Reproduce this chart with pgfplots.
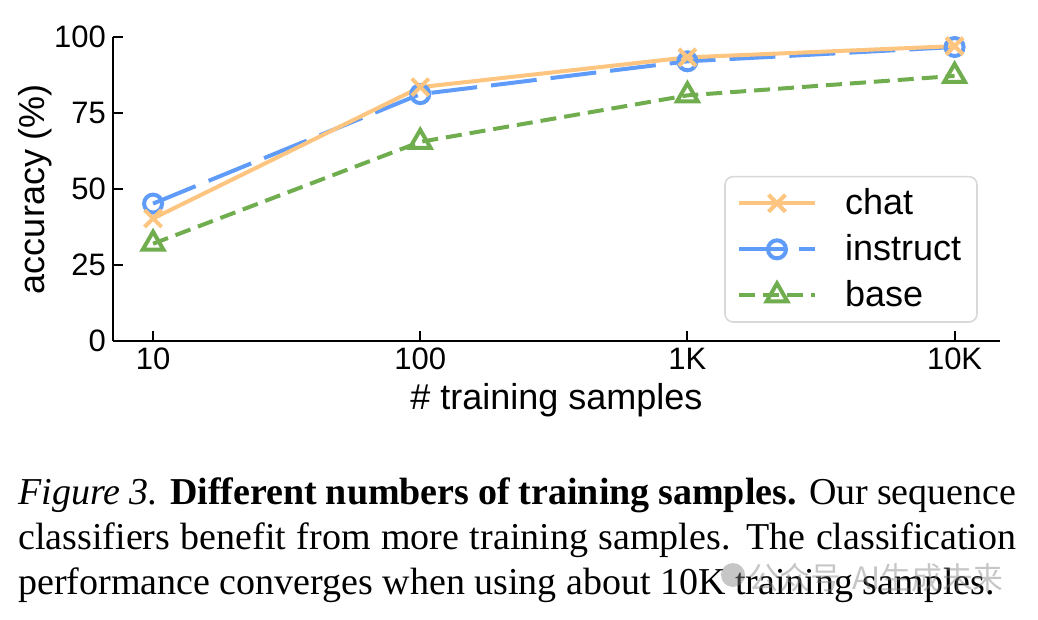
\documentclass[border=0pt]{standalone}
\usepackage{pgfplots}
\pgfplotsset{compat=1.18}
\usepackage{fontspec}
\setmainfont{Liberation Sans}
\newfontfamily\capfont{Liberation Serif}
\newfontfamily\cjk{Noto Sans CJK SC}
\definecolor{chatc}{HTML}{FDC57F}
\definecolor{instc}{HTML}{5F9BF9}
\definecolor{basec}{HTML}{70AD4F}
\begin{document}
\begin{tikzpicture}
\useasboundingbox (-56.5pt,-139.5pt) rectangle (462.5pt,170.5pt);
\begin{axis}[
  at={(0pt,0pt)}, anchor=south west,
  scale only axis, width=443.5pt, height=152pt,
  xmin=-0.15, xmax=3.17, ymin=0, ymax=100,
  axis x line*=bottom, axis y line*=left,
  axis line style={line width=1pt, -},
  tick style={line width=1pt, black},
  tick align=inside, major tick length=5pt,
  xtick={0,1,2,3}, xticklabels={10,100,1K,10K},
  ytick={0,25,50,75,100},
  /pgf/number format/assume math mode=true,
  tick label style={font=\fontsize{15.5}{18}\selectfont},
  xlabel={\# training samples},
  ylabel={accuracy (\%)},
  every axis x label/.style={at={(axis description cs:0.5,-0.194)}, anchor=center, font=\fontsize{18}{21}\selectfont},
  every axis y label/.style={at={(axis description cs:-0.088,0.5)}, rotate=90, anchor=center, font=\fontsize{18}{21}\selectfont},
  reverse legend,
  legend image code/.code={\draw[mark repeat=2,mark phase=2,#1] plot coordinates {(0pt,0pt) (19pt,0pt) (38pt,0pt)};},
  legend style={at={(axis description cs:0.975,0.06)}, anchor=south east,
    draw=black!15, line width=0.8pt, rounded corners=4pt,
    font=\fontsize{18}{21}\selectfont,
    inner xsep=6pt, inner ysep=4pt,
    row sep=4.5pt,
    nodes={inner ysep=2pt, inner xsep=2pt},
    /tikz/every even column/.append style={column sep=0pt},
    /tikz/every odd column/.append style={column sep=12pt},
  },
  legend cell align=left,
]
\addplot[basec, line width=2pt, dash pattern=on 8pt off 4pt, mark=triangle, mark size=6pt, mark options={solid, line width=2pt}]
  coordinates {(0,32)(1,65.5)(2,80.8)(3,87.2)};
\addlegendentry{base}
\addplot[instc, line width=2pt, dash pattern=on 23pt off 7pt, mark=o, mark size=4.5pt, mark options={solid, line width=2pt}]
  coordinates {(0,45.2)(1,81.2)(2,92)(3,96.7)};
\addlegendentry{instruct}
\addplot[chatc, line width=2pt, mark=x, mark size=6pt, mark options={solid, line width=2pt}]
  coordinates {(0,40.3)(1,83.5)(2,93.3)(3,97)};
\addlegendentry{chat}
\end{axis}
\node[anchor=north west, inner sep=0pt, text width=499pt, align=justify,
  font=\capfont\fontsize{19}{22.5}\selectfont] at (-47.5pt,-68pt)
  {\textit{Figure 3.} \textbf{Different numbers of training samples.} Our sequence\linebreak
   classifiers benefit from more training samples. The classification\linebreak
   performance converges when using about 10K training samples.};
\fill[gray, opacity=0.45] (310pt,-117pt) circle (6pt);
\node[anchor=west, inner sep=0pt, text=gray, opacity=0.45, font=\cjk\fontsize{15.4}{18}\selectfont]
  at (317.5pt,-118.5pt) {公众号\hspace{6pt}AI生成未来};
\end{tikzpicture}
\end{document}
